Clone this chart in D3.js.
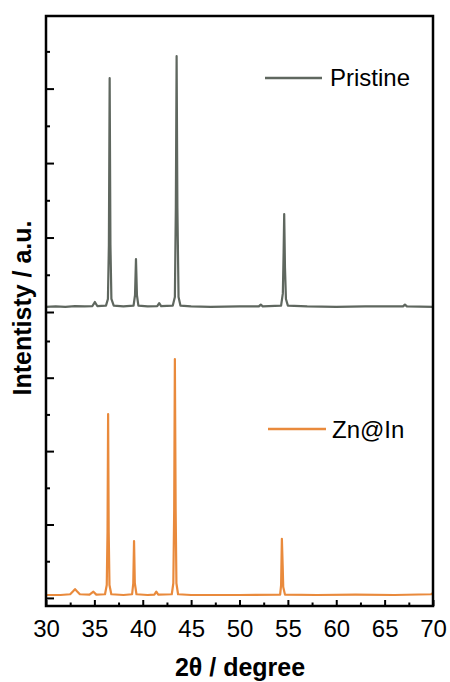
<!DOCTYPE html>
<html>
<head>
<meta charset="utf-8">
<script src="https://cdn.jsdelivr.net/npm/d3@7/dist/d3.min.js"></script>
<style>
  html, body { margin: 0; padding: 0; background: #fff; }
  svg { display: block; }
  text { font-family: "Liberation Sans", Arial, sans-serif; fill: #000; }
</style>
</head>
<body>
<svg id="chart" width="450" height="682"></svg>
<script>
// ---- data ----
const seriesNames = ["Pristine", "Zn@In"];
const seriesColors = ["#5f675f", "#e98a3c"];

const pristineX = [30.0, 31.0, 32.0, 33.0, 34.0, 34.8, 35.05, 35.3, 36.2, 36.4, 36.5, 36.58, 36.66, 36.76, 37.0,
  38.0, 39.05, 39.2, 39.3, 39.4, 39.55, 40.5, 41.5, 41.7, 41.9, 43.1, 43.32, 43.42, 43.5, 43.58, 43.7, 43.9,
  45.0, 47.0, 50.0, 52.0, 52.2, 52.4, 54.3, 54.48, 54.56, 54.62, 54.7, 54.8, 55.0, 57.0, 60.0, 63.0, 66.9, 67.1, 67.3, 70.0];
const pristineY = [0.14, 0.15, 0.14, 0.16, 0.15, 0.16, 0.27, 0.16, 0.17, 0.35, 1.8, 6.28, 1.8, 0.35, 0.17,
  0.15, 0.17, 0.45, 1.42, 0.45, 0.17, 0.15, 0.16, 0.24, 0.16, 0.17, 0.4, 2.8, 6.87, 2.8, 0.4, 0.17,
  0.15, 0.14, 0.15, 0.15, 0.2, 0.15, 0.17, 0.5, 1.6, 2.63, 1.2, 0.35, 0.17, 0.15, 0.14, 0.15, 0.15, 0.2, 0.15, 0.14];

const zninX = [30.0, 31.5, 32.5, 32.8, 33.0, 33.2, 33.5, 34.5, 34.9, 35.2, 36.1, 36.28, 36.36, 36.42, 36.48, 36.56, 36.75,
  38.0, 38.9, 39.02, 39.1, 39.18, 39.35, 40.5, 41.2, 41.4, 41.6, 43.0, 43.16, 43.25, 43.32, 43.4, 43.48, 43.65,
  45.0, 50.0, 54.2, 54.3, 54.38, 54.46, 54.52, 54.7, 58.0, 62.0, 66.0, 69.8, 70.0];
const zninY = [0.08, 0.08, 0.1, 0.18, 0.24, 0.18, 0.1, 0.09, 0.17, 0.09, 0.1, 0.35, 1.8, 5.01, 1.8, 0.35, 0.1,
  0.08, 0.1, 0.4, 1.55, 0.4, 0.1, 0.08, 0.09, 0.17, 0.09, 0.1, 0.4, 2.4, 6.51, 2.4, 0.4, 0.1,
  0.08, 0.08, 0.09, 0.35, 1.61, 0.9, 0.3, 0.09, 0.08, 0.09, 0.08, 0.1, 0.14];

const xMajorTicks = [30, 35, 40, 45, 50, 55, 60, 65, 70];
const xMinorTicks = [32.5, 37.5, 42.5, 47.5, 52.5, 57.5, 62.5, 67.5];
const yMajorTicks = [0, 2, 4, 6];
const yMinorTicks = [1, 3, 5, 7];

const xTitle = "2θ / degree";
const yTitle = "Intentisty / a.u.";

// ---- layout ----
const svg = d3.select("#chart");
const L = 46, R = 433, T = 16, B = 606, MID = 312;

const x = d3.scaleLinear().domain([30, 70]).range([L, R]);
const yTop = d3.scaleLinear().domain([0, 7.95]).range([MID, T]);
const yBot = d3.scaleLinear().domain([-0.22, 7.79]).range([B, MID]);

// lines
const panels = [
  { xs: pristineX, ys: pristineY, y: yTop, color: seriesColors[0] },
  { xs: zninX, ys: zninY, y: yBot, color: seriesColors[1] }
];
panels.forEach(p => {
  const pts = p.xs.map((v, i) => [v, p.ys[i]]);
  svg.append("path")
    .datum(pts)
    .attr("fill", "none")
    .attr("stroke", p.color)
    .attr("stroke-width", 2.2)
    .attr("stroke-linejoin", "round")
    .attr("d", d3.line().x(d => x(d[0])).y(d => p.y(d[1])));
});

// axes (ticks inward)
function styleAxis(g) {
  g.select(".domain").remove();
  g.selectAll(".tick line").attr("stroke", "#000").attr("stroke-width", 2);
}
svg.append("g").attr("transform", `translate(0,${B})`)
  .call(d3.axisBottom(x).tickValues(xMajorTicks).tickSizeInner(-6).tickSizeOuter(0).tickPadding(14).tickFormat(d3.format("d")))
  .call(styleAxis)
  .call(g => g.selectAll(".tick text").attr("font-size", 24).style("font-family", "'Liberation Sans', Arial, sans-serif"));
svg.append("g").attr("transform", `translate(0,${B})`)
  .call(d3.axisBottom(x).tickValues(xMinorTicks).tickSizeInner(-3.5).tickSizeOuter(0).tickFormat(""))
  .call(styleAxis);

[yTop, yBot].forEach(ys => {
  svg.append("g").attr("transform", `translate(${L},0)`)
    .call(d3.axisLeft(ys).tickValues(yMajorTicks).tickSizeInner(-8).tickSizeOuter(0).tickFormat(""))
    .call(styleAxis);
  svg.append("g").attr("transform", `translate(${L},0)`)
    .call(d3.axisLeft(ys).tickValues(yMinorTicks).tickSizeInner(-4).tickSizeOuter(0).tickFormat(""))
    .call(styleAxis);
});

// frame
svg.append("rect")
  .attr("x", L).attr("y", T).attr("width", R - L).attr("height", B - T)
  .attr("fill", "none").attr("stroke", "#000").attr("stroke-width", 2.5);

// legends
const legendPos = [{ x1: 265, x2: 322, y: 78, tx: 330, ty: 86 }, { x1: 268, x2: 326, y: 429, tx: 332, ty: 438 }];
seriesNames.forEach((name, i) => {
  const lp = legendPos[i];
  svg.append("line").attr("x1", lp.x1).attr("x2", lp.x2).attr("y1", lp.y).attr("y2", lp.y)
    .attr("stroke", seriesColors[i]).attr("stroke-width", 2.5);
  svg.append("text").attr("x", lp.tx).attr("y", lp.ty).attr("font-size", 24).text(name);
});

// titles
svg.append("text").attr("x", 240).attr("y", 676).attr("text-anchor", "middle")
  .attr("font-size", 25).attr("font-weight", "bold").text(xTitle);
svg.append("text").attr("transform", "translate(31,308) rotate(-90)").attr("text-anchor", "middle")
  .attr("font-size", 25).attr("font-weight", "bold").text(yTitle);
</script>
</body>
</html>
